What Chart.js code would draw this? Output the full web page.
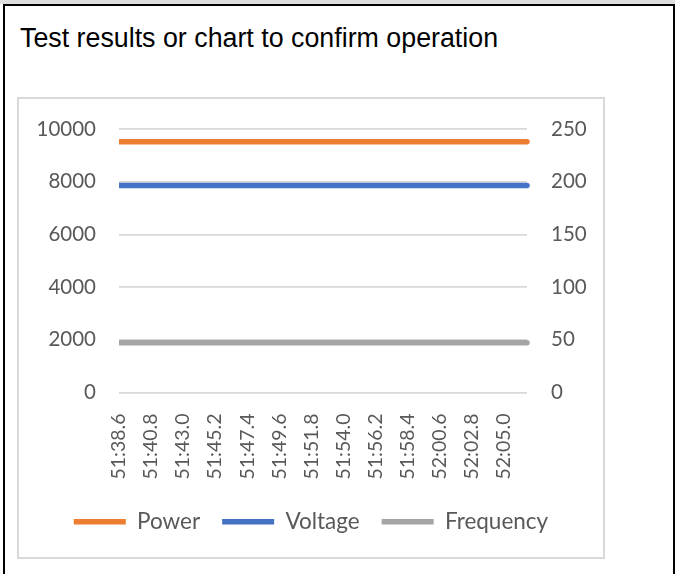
<!DOCTYPE html>
<html>
<head>
<meta charset="utf-8">
<script src="https://cdn.jsdelivr.net/npm/chart.js@4"></script>
<style>
  body { margin: 0; width: 675px; height: 574px; overflow: hidden; background: #fff; position: relative; font-family: "Liberation Sans", Arial, sans-serif; }
  .band { position: absolute; left: 0; top: 0; width: 675px; height: 4px; background: #dedede; }
  .frame { position: absolute; left: 3px; top: 4px; width: 668px; height: 600px; border: 2px solid #000; border-bottom: none; }
  .title { position: absolute; left: 20px; top: 25px; font-size: 26.8px; line-height: 1; color: #000; white-space: nowrap; }
  .box { position: absolute; left: 17px; top: 97px; width: 588px; height: 462px; box-sizing: border-box; border: 2px solid #d9d9d9; }
  canvas { display: block; }
</style>
</head>
<body>
<div class="band"></div>
<div class="frame"></div>
<div class="title">Test results or chart to confirm operation</div>
<div class="box"><canvas id="myChart" width="584" height="458"></canvas></div>
<script>
// sample times (mm:ss.s) and readings
const sampleTimes = ['51:38.6', '51:40.8', '51:43.0', '51:45.2', '51:47.4', '51:49.6', '51:51.8',
                     '51:54.0', '51:56.2', '51:58.4', '52:00.6', '52:02.8', '52:05.0', '52:06.6'];
const tickLabels = ['51:38.6', '51:40.8', '51:43.0', '51:45.2', '51:47.4', '51:49.6', '51:51.8',
                    '51:54.0', '51:56.2', '51:58.4', '52:00.6', '52:02.8', '52:05.0'];
const power = [9520, 9520, 9520, 9520, 9520, 9520, 9520, 9520, 9520, 9520, 9520, 9520, 9520, 9520];
const voltage = [196.3, 196.3, 196.3, 196.3, 196.3, 196.3, 196.3, 196.3, 196.3, 196.3, 196.3, 196.3, 196.3, 196.3];
const frequency = [47.1, 47.1, 47.1, 47.1, 47.1, 47.1, 47.1, 47.1, 47.1, 47.1, 47.1, 47.1, 47.1, 47.1];

function toSec(t) {
    const parts = t.split(':');
    return Number(parts[0]) * 60 + Number(parts[1]);
}

function points(values) {
    return values.map((v, i) => ({ x: toSec(sampleTimes[i]), y: v }));
}

const textColor = '#595959';
const gridColor = '#d9d9d9';
const tickFont = { family: 'Lato', size: 20.5 };
const xFont = { family: 'Lato', size: 19.5 };
const legendFont = { family: 'Lato', size: 22.5 };

const lineStyle = {
    borderWidth: 5.5,
    pointRadius: 0,
    borderCapStyle: 'round',
    tension: 0,
    clip: { left: 0, right: 6, top: 6, bottom: 6 }
};

// y axes: fixed width, and don't let the tick padding push the plot down
function fixAxis(width) {
    return axis => {
        axis.width = width;
        axis.paddingTop = 12;
        axis.paddingBottom = 12;
    };
}

const ctx = document.getElementById('myChart');

const data = {
    datasets: [
        Object.assign({ label: 'Power', data: points(power), borderColor: '#ED7D31', backgroundColor: '#ED7D31', yAxisID: 'y' }, lineStyle),
        Object.assign({ label: 'Voltage', data: points(voltage), borderColor: '#4472C4', backgroundColor: '#4472C4', yAxisID: 'y1' }, lineStyle),
        Object.assign({ label: 'Frequency', data: points(frequency), borderColor: '#A5A5A5', backgroundColor: '#A5A5A5', yAxisID: 'y1' }, lineStyle)
    ]
};

const options = {
    responsive: false,
    animation: false,
    layout: { padding: { top: 30, bottom: 14, left: 0, right: 0 } },
    plugins: {
        tooltip: { enabled: false },
        legend: {
            position: 'bottom',
            labels: {
                usePointStyle: true,
                pointStyle: 'line',
                pointStyleWidth: 52,
                padding: 22,
                color: textColor,
                font: legendFont
            }
        }
    },
    scales: {
        x: {
            type: 'linear',
            min: toSec(sampleTimes[0]),
            max: toSec(sampleTimes[sampleTimes.length - 1]),
            grid: { display: false },
            border: { display: false },
            afterBuildTicks: axis => {
                axis.ticks = tickLabels.map(t => ({ value: toSec(t) }));
            },
            afterFit: axis => { axis.height = 96; },
            ticks: {
                minRotation: 90,
                maxRotation: 90,
                padding: 13,
                color: textColor,
                font: xFont,
                callback: (value, index) => tickLabels[index]
            }
        },
        y: {
            position: 'left',
            min: 0,
            max: 10000,
            grid: { color: gridColor, lineWidth: 1.75, drawTicks: false },
            border: { display: false },
            afterFit: fixAxis(100),
            ticks: { stepSize: 2000, padding: 23, color: textColor, font: tickFont, callback: v => String(v) }
        },
        y1: {
            position: 'right',
            min: 0,
            max: 250,
            grid: { display: false, drawTicks: false },
            border: { display: false },
            afterFit: fixAxis(76),
            ticks: { stepSize: 50, padding: 24, color: textColor, font: tickFont, callback: v => String(v) }
        }
    }
};

const lineChart = new Chart(ctx, {
    type: 'line',
    data: data,
    options: options
});
</script>
</body>
</html>
